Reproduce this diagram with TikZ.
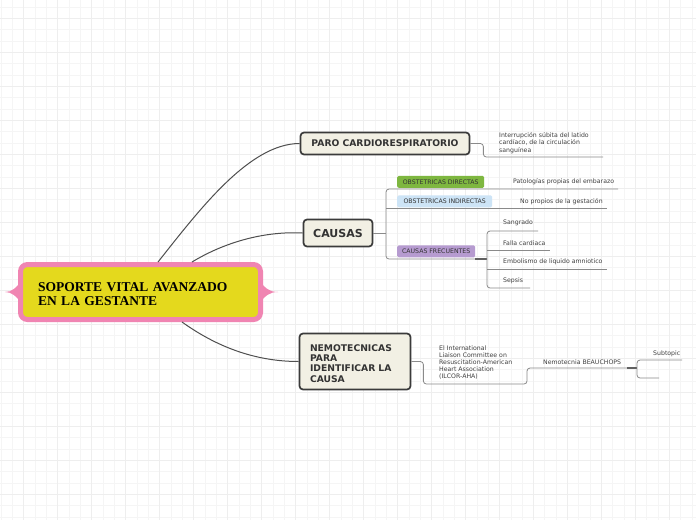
\documentclass[tikz,border=0pt]{standalone}
\usepackage{fontspec}
\setmainfont{DejaVu Sans}
\newfontfamily\rootfont{Liberation Serif}
\usetikzlibrary{positioning}

\definecolor{rootrim}{HTML}{F085B2}
\definecolor{rootfill}{HTML}{E4D91D}
\definecolor{topicfill}{HTML}{F2F0E4}
\definecolor{topicline}{HTML}{3B3B3B}
\definecolor{linkgray}{HTML}{4F4F4F}
\definecolor{branchgray}{HTML}{8A8A8A}
\definecolor{tagdir}{HTML}{7EB740}
\definecolor{tagind}{HTML}{CDE4F6}
\definecolor{tagfrec}{HTML}{B69BD0}
\definecolor{gridminor}{HTML}{F5F5F5}
\definecolor{gridmajor}{HTML}{EEEEEE}

\begin{document}
\begin{tikzpicture}[
  x=1pt,y=-1pt,
  root/.style={draw=rootrim,fill=rootfill,line width=5pt,rounded corners=7pt,text width=205pt,inner xsep=17.5pt,minimum height=55pt,align=left,font=\rootfont\bfseries\fontsize{13.5}{13.5}\selectfont},
  topic/.style={draw=topicline,fill=topicfill,line width=1.7pt,rounded corners=3.5pt,inner sep=0pt,font=\bfseries\fontsize{9.2}{10.3}\selectfont,text=black!80},
  tag/.style={anchor=south west,rounded corners=1.5pt,inner sep=0pt,minimum height=12pt,font=\fontsize{6.2}{7}\selectfont,text=black!80},
  leaf/.style={anchor=west,inner sep=0pt,align=left,font=\fontsize{6.2}{7.2}\selectfont,text=black!75},
  link/.style={draw=linkgray,line width=1pt},
  branch/.style={draw=branchgray,line width=0.8pt,rounded corners=3pt},
  branchstub/.style={draw=branchgray!70!black,line width=1.5pt},
  gridfine/.style={draw=gridminor,line width=0.7pt},
  gridbold/.style={draw=gridmajor,line width=0.9pt}
]
\useasboundingbox (0,0) rectangle (696,520);
\fill[white] (0,0) rectangle (696,520);
\foreach \i in {0,...,61} \draw[gridfine] ({1+11.33*\i},0) -- ({1+11.33*\i},520);
\foreach \i in {0,...,45} \draw[gridfine] (0,{7+11.33*\i}) -- (696,{7+11.33*\i});
\foreach \i in {0,...,19} \draw[gridbold] ({23.3+34*\i},0) -- ({23.3+34*\i},520);
\foreach \i in {0,...,14} \draw[gridbold] (0,{18.3+34*\i}) -- (696,{18.3+34*\i});

\fill[rootrim] (22,280) .. controls (16,288) and (12,292) .. (5,292) .. controls (12,292) and (16,296) .. (22,304) -- cycle;
\fill[rootrim] (259,280) .. controls (265,288) and (269,292) .. (278,292) .. controls (269,292) and (265,296) .. (259,304) -- cycle;
\node[root] (root) at (140.5,292) {\rule{0pt}{13pt}SOPORTE VITAL AVANZADO\\EN LA GESTANTE};

\node[topic,minimum width=169pt,minimum height=22pt] (paro) at (385,143.5) {PARO CARDIORESPIRATORIO};
\node[topic,minimum width=69pt,minimum height=27pt,font=\bfseries\fontsize{11}{13}\selectfont] (causas) at (338,233) {CAUSAS};
\node[topic,minimum height=56pt,text width=90pt,inner xsep=10.5pt,align=left] (nemo) at (355,361.5) {\rule{0pt}{10.5pt}NEMOTECNICAS\\PARA\\IDENTIFICAR LA\\CAUSA};

\draw[link] ([xshift=17.5pt]root.north) .. controls +(42,-53) and +(-50,0) .. (paro.west);
\draw[link] ([xshift=51.5pt]root.north) .. controls +(33,-20) and +(-38,-2) .. (causas.west);
\draw[link] ([xshift=41.5pt]root.south) .. controls +(28,20) and +(-50,0) .. (nemo.west);

\node[tag,fill=tagdir,minimum width=87pt] (dir) at (397,188) {OBSTETRICAS DIRECTAS};
\node[tag,fill=tagind,minimum width=95pt] (ind) at (397,207.5) {OBSTETRICAS INDIRECTAS};
\node[tag,fill=tagfrec,minimum width=78pt] (frec) at (397,257.5) {CAUSAS FRECUENTES};

\coordinate (intrEnd) at (603,157);
\coordinate (cJ) at (386,233);
\coordinate (patoEnd) at (618,189);
\coordinate (noEnd) at (607,208);
\coordinate (frecJ) at (487,259);
\coordinate (sangEnd) at (538,231);
\coordinate (fallaEnd) at (550,250);
\coordinate (embEnd) at (607,269);
\coordinate (sepEnd) at (530,288);
\coordinate (ilcorEnd) at (527,384);
\coordinate (beauEnd) at (627,368);
\coordinate (bJ) at (637,368);
\coordinate (subEnd) at (682,360);
\coordinate (subTwoEnd) at (659,378);

\draw[branch] (paro.east) -- ++(13,0) |- (intrEnd);
\draw[branch] (causas.east) -- (cJ);
\draw[branch] (patoEnd) -| (cJ) |- (frecJ);
\draw[branch] (cJ |- noEnd) -- (noEnd);
\draw[branchstub] (frec.east |- frecJ) -- (frecJ);
\draw[branch] (sangEnd) -| (frecJ) |- (sepEnd);
\draw[branch] (frecJ |- fallaEnd) -- (fallaEnd);
\draw[branch] (frecJ |- embEnd) -- (embEnd);
\draw[branch] (nemo.east) -- ++(12,0) |- (ilcorEnd) |- (beauEnd);
\draw[branchstub] (beauEnd) -- (bJ);
\draw[branch] (subEnd) -| (bJ) |- (subTwoEnd);

\node[leaf] (intr) at (499,143) {Interrupción súbita del latido\\cardíaco, de la circulación\\sanguínea};
\node[leaf] (pato) at (513,182) {Patologías propias del embarazo};
\node[leaf] (nopro) at (520,202) {No propios de la gestación};
\node[leaf] (sang) at (503,223) {Sangrado};
\node[leaf] (falla) at (503,243) {Falla cardiaca};
\node[leaf] (emb) at (503,262) {Embolismo de liquido amniotico};
\node[leaf] (sep) at (503,281) {Sepsis};
\node[leaf] (ilcor) at (439,362.5) {El International\\Liaison Committee on\\Resuscitation-American\\Heart Association\\(ILCOR-AHA)};
\node[leaf] (beau) at (543,362) {Nemotecnia BEAUCHOPS};
\node[leaf] (subt) at (653,354) {Subtopic};
\end{tikzpicture}
\end{document}
